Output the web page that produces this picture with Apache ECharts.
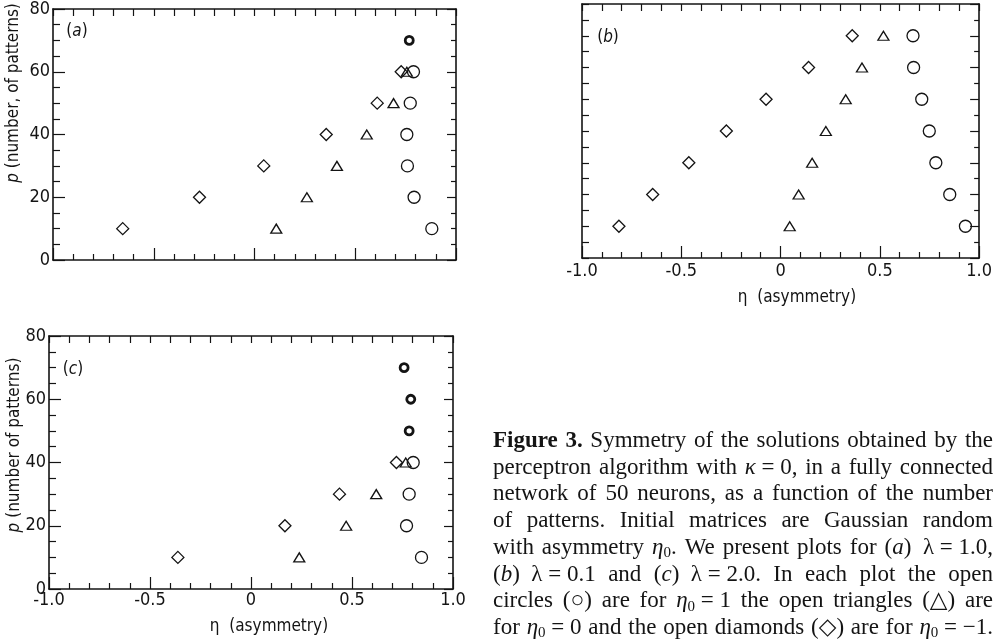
<!DOCTYPE html>
<html><head><meta charset="utf-8">
<script src="https://cdn.jsdelivr.net/npm/echarts@6/dist/echarts.min.js"></script>
<style>html,body{margin:0;padding:0;background:#fff}#c{width:995px;height:642px}</style>
</head><body><div id="c"></div>
<script>
// ---------- data ----------
const xTickLabels = ['-1.0', '-0.5', '0', '0.5', '1.0'];
const yTickLabels = ['0', '20', '40', '60', '80'];

// panel (a)  lambda = 1.0
const aDiamondEta  = [-0.654, -0.273, 0.046, 0.356, 0.609, 0.728];
const aDiamondP    = [10, 20, 30, 40, 50, 60];
const aTriangleEta = [0.108, 0.260, 0.409, 0.557, 0.690, 0.756];
const aTriangleP   = [10, 20, 30, 40, 50, 60];
const aCircleEta   = [0.880, 0.792, 0.759, 0.756, 0.773, 0.789];
const aCircleP     = [10, 20, 30, 40, 50, 60];
const aBoldCircleEta = [0.768];
const aBoldCircleP   = [70];

// panel (b)  lambda = 0.1
const bDiamondEta  = [-0.814, -0.644, -0.462, -0.273, -0.073, 0.141, 0.361];
const bDiamondP    = [10, 20, 30, 40, 50, 60, 70];
const bTriangleEta = [0.046, 0.091, 0.159, 0.228, 0.328, 0.410, 0.518];
const bTriangleP   = [10, 20, 30, 40, 50, 60, 70];
const bCircleEta   = [0.931, 0.852, 0.782, 0.749, 0.711, 0.670, 0.667];
const bCircleP     = [10, 20, 30, 40, 50, 60, 70];

// panel (c)  lambda = 2.0
const cDiamondEta  = [-0.362, 0.168, 0.438, 0.720];
const cDiamondP    = [10, 20, 30, 40];
const cTriangleEta = [0.239, 0.471, 0.620, 0.766];
const cTriangleP   = [10, 20, 30, 40];
const cCircleEta   = [0.844, 0.770, 0.783, 0.803];
const cCircleP     = [10, 20, 30, 40];
const cBoldCircleEta = [0.783, 0.791, 0.758];
const cBoldCircleP   = [50, 60, 70];

// caption lines (justified at render time)
const captionLines = [
  '{b|Figure} {b|3.} Symmetry of the solutions obtained by the',
  'perceptron algorithm with {i|κ}\u00a0=\u00a00, in a fully connected',
  'network of 50 neurons, as a function of the number',
  'of patterns. Initial matrices are Gaussian random',
  'with asymmetry {i|η}{s|0}. We present plots for ({i|a})\u00a0\u00a0λ\u00a0=\u00a01.0,',
  '({i|b})\u00a0\u00a0λ\u00a0=\u00a00.1 and ({i|c})\u00a0\u00a0λ\u00a0=\u00a02.0. In each plot the open',
  'circles (○) are for {i|η}{s|0}\u00a0=\u00a01 the open triangles (△) are',
  'for {i|η}{s|0}\u00a0=\u00a00 and the open diamonds (◇) are for {i|η}{s|0}\u00a0=\u00a0−1.'
];

// ---------- styling ----------
const SANS = '"Liberation Sans Narrow","DejaVu Sans Condensed","Liberation Sans",sans-serif';
const SERIF = '"Liberation Serif","DejaVu Serif",serif';
const INK = '#141414';

const grids = [
  {left: 53, top: 5, width: 403, height: 255},
  {left: 582, top: 4, width: 404, height: 254},
  {left: 49, top: 336, width: 404, height: 253}
];

function xAxes(gi, showLabels, margin) {
  const common = {
    type: 'value', gridIndex: gi, min: -1, max: 1, interval: 0.5,
    axisLine: {show: true, onZero: false, lineStyle: {color: INK, width: 1.6}},
    splitLine: {show: false}
  };
  return [
    Object.assign({}, common, {
      position: 'bottom',
      axisTick: {show: true, inside: true, length: 12, lineStyle: {color: INK, width: 1.2}},
      minorTick: {show: true, splitNumber: 5, length: 6, lineStyle: {color: INK, width: 1.2}},
      axisLabel: {show: showLabels, margin: margin, color: INK, fontFamily: SANS, fontSize: 18,
        formatter: v => xTickLabels[Math.round((v + 1) * 2)]}
    }),
    Object.assign({}, common, {
      position: 'top',
      axisTick: {show: true, inside: true, length: 7, lineStyle: {color: INK, width: 1.2}},
      minorTick: {show: true, splitNumber: 5, length: 7, lineStyle: {color: INK, width: 1.2}},
      axisLabel: {show: false}
    })
  ];
}

function yAxes(gi, showLabels, rightInterval) {
  const common = {
    type: 'value', gridIndex: gi, min: 0, max: 80,
    axisLine: {show: true, onZero: false, lineStyle: {color: INK, width: 1.6}},
    splitLine: {show: false}
  };
  return [
    Object.assign({}, common, {
      position: 'left', interval: 20,
      axisTick: {show: true, inside: true, length: showLabels ? 12 : 7, lineStyle: {color: INK, width: 1.2}},
      minorTick: {show: true, splitNumber: 4, length: 7, lineStyle: {color: INK, width: 1.2}},
      axisLabel: {show: showLabels, margin: 3, color: INK, fontFamily: SANS, fontSize: 18,
        formatter: v => yTickLabels[Math.round(v / 20)]}
    }),
    Object.assign({}, common, {
      position: 'right', interval: rightInterval,
      axisTick: {show: true, inside: true, length: 9, lineStyle: {color: INK, width: 1.2}},
      minorTick: {show: true, splitNumber: rightInterval / 5, length: 5, lineStyle: {color: INK, width: 1.2}},
      axisLabel: {show: false}
    })
  ];
}

function scatter(gi, eta, p, symbol, size, bw) {
  return {
    type: 'scatter', xAxisIndex: gi * 2, yAxisIndex: gi * 2,
    symbol: symbol, symbolSize: size,
    data: eta.map((e, i) => [e, p[i]]),
    itemStyle: {color: 'rgba(255,255,255,0)', borderColor: INK, borderWidth: bw, opacity: 1},
    emphasis: {disabled: true}, silent: true, z: 5
  };
}

const DIAM = [12, 12], TRI = [11, 9], CIRC = 12, BOLD = 8;

const series = [
  scatter(0, aDiamondEta, aDiamondP, 'diamond', DIAM, 1.3),
  scatter(0, aTriangleEta, aTriangleP, 'triangle', TRI, 1.3),
  scatter(0, aCircleEta, aCircleP, 'circle', CIRC, 1.3),
  scatter(0, aBoldCircleEta, aBoldCircleP, 'circle', BOLD, 2.8),
  scatter(1, bDiamondEta, bDiamondP, 'diamond', DIAM, 1.3),
  scatter(1, bTriangleEta, bTriangleP, 'triangle', TRI, 1.3),
  scatter(1, bCircleEta, bCircleP, 'circle', CIRC, 1.3),
  scatter(2, cDiamondEta, cDiamondP, 'diamond', DIAM, 1.3),
  scatter(2, cTriangleEta, cTriangleP, 'triangle', TRI, 1.3),
  scatter(2, cCircleEta, cCircleP, 'circle', CIRC, 1.3),
  scatter(2, cBoldCircleEta, cBoldCircleP, 'circle', BOLD, 2.8)
];

// ---------- annotation text ----------
const plotRich = {
  n: {fontFamily: SANS, fontSize: 17, color: INK},
  i: {fontFamily: SANS, fontSize: 17, fontStyle: 'italic', color: INK}
};
function plotText(x, y, text, rot) {
  return {type: 'text', x: x, y: y, rotation: rot || 0, silent: true, z: 10,
    style: {text: text, rich: plotRich, fontFamily: SANS, fontSize: 17, fill: INK,
      align: 'center', verticalAlign: 'middle'}};
}
const graphics = [
  plotText(77, 32, '{n|(}{i|a}{n|)}'),
  plotText(608, 38, '{n|(}{i|b}{n|)}'),
  plotText(73, 370, '{n|(}{i|c}{n|)}'),
  plotText(14, 93, '{i|p}{n| (number, of patterns)}', Math.PI / 2),
  plotText(15, 445, '{i|p}{n| (number of patterns)}', Math.PI / 2),
  plotText(797, 298, '{n|η  (asymmetry)}'),
  plotText(269, 627, '{n|η  (asymmetry)}')
];

// caption: justified words
const CAP_FS = 23, CAP_LH = 26;
const capRich = {
  n: {fontFamily: SERIF, fontSize: CAP_FS, lineHeight: CAP_LH, verticalAlign: 'middle', color: INK},
  b: {fontFamily: SERIF, fontSize: CAP_FS, lineHeight: CAP_LH, verticalAlign: 'middle', fontWeight: 'bold', color: INK},
  i: {fontFamily: SERIF, fontSize: CAP_FS, lineHeight: CAP_LH, verticalAlign: 'middle', fontStyle: 'italic', color: INK},
  s: {fontFamily: SERIF, fontSize: 15, lineHeight: 15, verticalAlign: 'bottom', color: INK}
};
const mctx = document.createElement('canvas').getContext('2d');
function parseWord(w) {
  const out = [];
  const re = /\{(\w+)\|([^}]*)\}|([^{]+)/g;
  let m;
  while ((m = re.exec(w))) {
    if (m[1]) out.push([m[1], m[2]]); else out.push(['n', m[3]]);
  }
  return out;
}
function measure(tokens) {
  let w = 0;
  tokens.forEach(([st, t]) => {
    const s = capRich[st];
    mctx.font = (s.fontStyle || 'normal') + ' ' + (s.fontWeight || 'normal') + ' ' + s.fontSize + 'px ' + s.fontFamily;
    w += mctx.measureText(t).width;
  });
  return w;
}
const CAP_X0 = 493, CAP_X1 = 993, CAP_Y0 = 441, CAP_DY = 26.7;
captionLines.forEach((line, li) => {
  const words = line.split(' ').map(parseWord);
  const widths = words.map(measure);
  const total = widths.reduce((a, b) => a + b, 0);
  let gap = words.length > 1 ? (CAP_X1 - CAP_X0 - total) / (words.length - 1) : 0;
  let sx = 1;
  if (gap < 3) { gap = 3; sx = (CAP_X1 - CAP_X0 - gap * (words.length - 1)) / total; }
  let x = CAP_X0;
  words.forEach((toks, wi) => {
    graphics.push({type: 'text', x: x, y: CAP_Y0 + li * CAP_DY, scaleX: sx, silent: true, z: 10,
      style: {text: toks.map(([st, t]) => '{' + st + '|' + t + '}').join(''), rich: capRich,
        fontFamily: SERIF, fontSize: CAP_FS, fill: INK, align: 'left', verticalAlign: 'middle'}});
    x += widths[wi] * sx + gap;
  });
});

const chart = echarts.init(document.getElementById('c'), null, {renderer: 'canvas'});
chart.setOption({
  animation: false,
  backgroundColor: '#fff',
  grid: grids,
  xAxis: [].concat(xAxes(0, false, 4), xAxes(1, true, 4), xAxes(2, true, 2)),
  yAxis: [].concat(yAxes(0, true, 20), yAxes(1, false, 10), yAxes(2, true, 20)),
  series: series,
  graphic: graphics
});
</script>
</body></html>
